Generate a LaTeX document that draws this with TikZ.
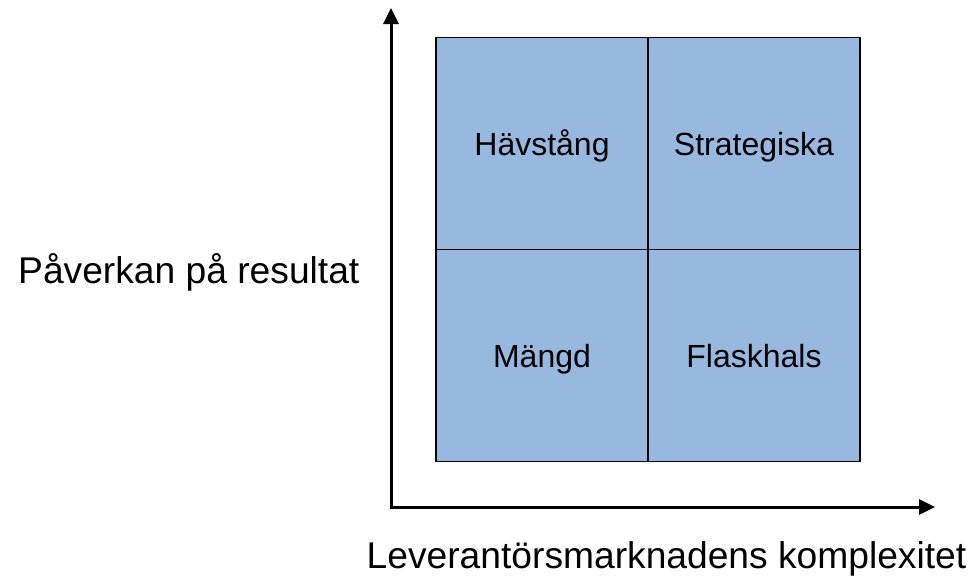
\documentclass[tikz,border=0pt]{standalone}
\usepackage{fontspec}
\setmainfont{Liberation Sans}
\usetikzlibrary{arrows.meta}
\definecolor{cellblue}{RGB}{151,185,224}
\tikzset{
  cell/.style={draw=black, line width=1.5pt, fill=cellblue, minimum width=212pt, minimum height=212pt, inner sep=0pt},
  celltext/.style={font=\fontsize{32}{36}\selectfont, inner sep=0pt, anchor=base},
  axis/.style={line width=3pt, -{Triangle[length=16pt,width=15pt]}},
  axislabel/.style={font=\fontsize{37.2}{42}\selectfont, inner sep=0pt, anchor=base}
}
\begin{document}
\begin{tikzpicture}[x=1pt,y=-1pt]
\useasboundingbox (0,0) rectangle (973,576);
\node[cell] (hav) at (542,143.5) {};
\node[cell] (str) at (754,143.5) {};
\node[cell] (man) at (542,355.5) {};
\node[cell] (fla) at (754,355.5) {};
\node[celltext] (tHav) at (542,155.5) {Hävstång};
\node[celltext] (tStr) at (754,155.5) {Strategiska};
\node[celltext] (tMan) at (542,367.5) {Mängd};
\node[celltext] (tFla) at (754,367.5) {Flaskhals};
\coordinate (o) at (391,507);
\coordinate (ytip) at (391,8);
\coordinate (xtip) at (935,507);
\draw[axis] ([yshift=-1.5pt]o) -- (ytip);
\draw[axis] ([xshift=-1.5pt]o) -- (xtip);
\node[axislabel, anchor=base west] (ylab) at (18,283) {Påverkan på resultat};
\node[axislabel] (xlab) at (666.5,568) {Leverantörsmarknadens komplexitet};
\end{tikzpicture}
\end{document}
